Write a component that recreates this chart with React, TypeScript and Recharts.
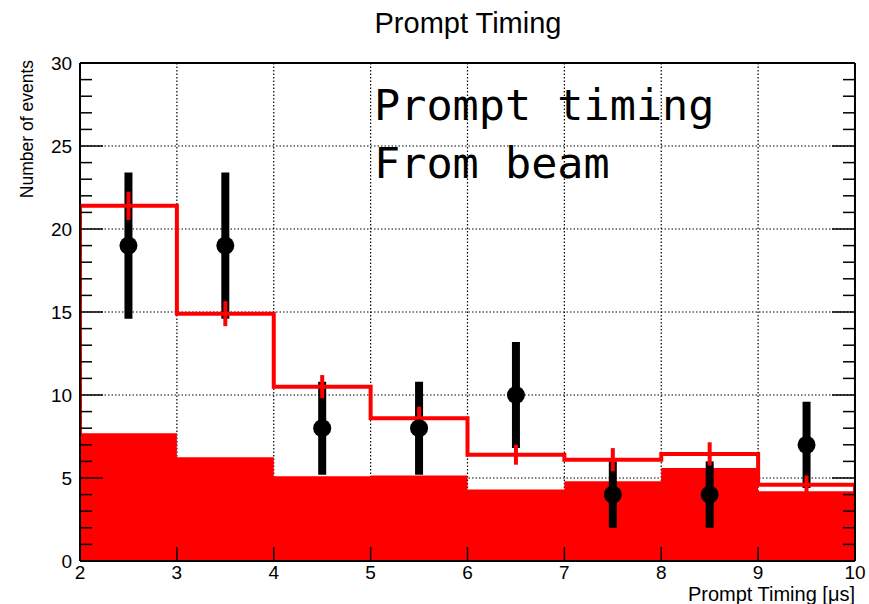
import {
  ComposedChart,
  Area,
  Line,
  Scatter,
  ErrorBar,
  XAxis,
  YAxis,
  CartesianGrid,
} from "recharts";

// bin layout (µs)
const binEdges = [2, 3, 4, 5, 6, 7, 8, 9, 10];
const binCenters = [2.5, 3.5, 4.5, 5.5, 6.5, 7.5, 8.5, 9.5];

// filled red: beam-related component
const beamBkg = [7.7, 6.25, 5.1, 5.15, 4.3, 4.8, 5.6, 4.2];
// red outline: total prediction, with its stat error
const mcTotal = [21.4, 14.9, 10.5, 8.6, 6.4, 6.1, 6.45, 4.6];
const mcTotalErr = [0.85, 0.75, 0.7, 0.7, 0.6, 0.7, 0.7, 0.55];
// black points: data
const dataCounts = [19, 19, 8, 8, 10, 4, 4, 7];
const dataErr = [4.4, 4.4, 2.8, 2.8, 3.2, 2.0, 2.0, 2.6];

const xTicks = [2, 3, 4, 5, 6, 7, 8, 9, 10];
const yTicks = [0, 5, 10, 15, 20, 25, 30];

// ROOT-style minor ticks between the majors
const minorOf = (major: number[], n: number) => {
  const out: number[] = [];
  for (let i = 0; i < major.length - 1; i++) {
    const step = (major[i + 1] - major[i]) / n;
    for (let k = 1; k < n; k++) out.push(+(major[i] + k * step).toFixed(3));
  }
  return out;
};
const xMinor = minorOf(xTicks, 5);
const yMinor = minorOf(yTicks, 5);

const last = beamBkg.length - 1;
const fillRows = binEdges.map((x, i) => ({ x, y: beamBkg[Math.min(i, last)] }));
const lineRows = [
  { x: 2, y: 0 },
  ...binEdges.map((x, i) => ({ x, y: mcTotal[Math.min(i, last)] })),
  { x: 10, y: 0 },
];
const mcRows = binCenters.map((x, i) => ({ x, y: mcTotal[i], e: mcTotalErr[i] }));
const dataRows = binCenters.map((x, i) => ({ x, y: dataCounts[i], e: dataErr[i] }));

const W = 869;
const H = 604;
const RED = "#ff0000";
const THIN = 0.01; // axes need a non-zero size to be drawn
const blank = () => "";

const DataDot = (p: any) => <circle cx={p.cx} cy={p.cy} r={9} fill="#000" />;
const NoDot = () => <g />;

export default function App() {
  const frame = { stroke: "#000", strokeWidth: 2 };
  const tl = { stroke: "#000", strokeWidth: 1.5 };
  const common = { type: "number" as const, allowDataOverflow: true, interval: 0 as const };
  return (
    <div
      style={{
        position: "absolute",
        left: 0,
        top: 0,
        width: W,
        height: H,
        background: "#fff",
        fontFamily: "'Liberation Sans', Arial, sans-serif",
      }}
    >
      <ComposedChart width={W} height={H} margin={{ top: 63, right: 14, bottom: 43, left: 80 }}>
        <CartesianGrid xAxisId="main" yAxisId="main" stroke="#000" strokeDasharray="1.5 2" strokeWidth={1.2} />

        <XAxis xAxisId="main" dataKey="x" {...common} domain={[2, 10]} ticks={xTicks} height={THIN}
          tickSize={-14} tickMargin={19} axisLine={frame} tickLine={tl} tick={{ fill: "#000", fontSize: 19 }} />
        <XAxis xAxisId="xMinor" {...common} domain={[2, 10]} ticks={xMinor} height={THIN}
          tickSize={-7} axisLine={false} tickLine={tl} tickFormatter={blank} />
        <XAxis xAxisId="top" orientation="top" {...common} domain={[2, 10]} ticks={xTicks} height={THIN}
          tickSize={-14} axisLine={frame} tickLine={tl} tickFormatter={blank} />
        <XAxis xAxisId="topMinor" orientation="top" {...common} domain={[2, 10]} ticks={xMinor} height={THIN}
          tickSize={-7} axisLine={false} tickLine={tl} tickFormatter={blank} />

        <YAxis yAxisId="main" dataKey="y" {...common} domain={[0, 30]} ticks={yTicks} width={THIN}
          tickSize={-23} tickMargin={31} axisLine={frame} tickLine={tl} tick={{ fill: "#000", fontSize: 19 }} />
        <YAxis yAxisId="yMinor" {...common} domain={[0, 30]} ticks={yMinor} width={THIN}
          tickSize={-12} axisLine={false} tickLine={tl} tickFormatter={blank} />
        <YAxis yAxisId="right" orientation="right" {...common} domain={[0, 30]} ticks={yTicks} width={THIN}
          tickSize={-23} axisLine={frame} tickLine={tl} tickFormatter={blank} />
        <YAxis yAxisId="rightMinor" orientation="right" {...common} domain={[0, 30]} ticks={yMinor} width={THIN}
          tickSize={-12} axisLine={false} tickLine={tl} tickFormatter={blank} />

        <Area xAxisId="main" yAxisId="main" data={fillRows} dataKey="y" type="stepAfter"
          fill={RED} fillOpacity={1} stroke="none" isAnimationActive={false} />
        <Scatter xAxisId="main" yAxisId="main" data={dataRows} dataKey="y" shape={DataDot} isAnimationActive={false}>
          <ErrorBar dataKey="e" direction="y" width={0} stroke="#000" strokeWidth={8} isAnimationActive={false} />
        </Scatter>
        <Line xAxisId="main" yAxisId="main" data={lineRows} dataKey="y" type="stepAfter"
          stroke={RED} strokeWidth={4} dot={false} isAnimationActive={false} />
        <Scatter xAxisId="main" yAxisId="main" data={mcRows} dataKey="y" shape={NoDot} isAnimationActive={false}>
          <ErrorBar dataKey="e" direction="y" width={0} stroke={RED} strokeWidth={4} isAnimationActive={false} />
        </Scatter>
      </ComposedChart>

      <svg width={W} height={H} style={{ position: "absolute", left: 0, top: 0, pointerEvents: "none" }}>
        <text x={468} y={33} textAnchor="middle" fontSize={29} fill="#000">Prompt Timing</text>
        <text transform="translate(33,60) rotate(-90)" textAnchor="end" fontSize={17.5} fill="#000">
          Number of events
        </text>
        <text x={855} y={601} textAnchor="end" fontSize={20} fill="#000">Prompt Timing [μs]</text>
        <g fontFamily="'DejaVu Sans Mono', 'Liberation Mono', monospace" fontSize={43.5} fill="#000">
          <text x={374} y={120}>Prompt timing</text>
          <text x={374} y={178}>From beam</text>
        </g>
      </svg>
    </div>
  );
}
